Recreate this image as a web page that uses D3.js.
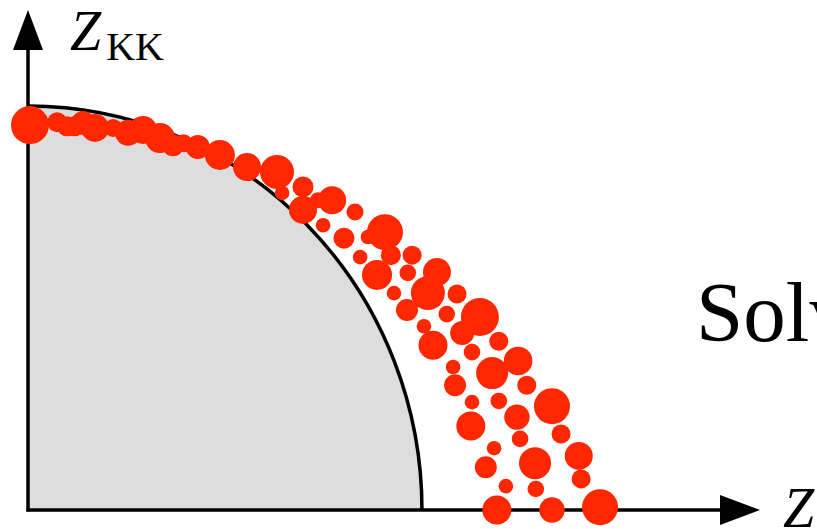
<!DOCTYPE html>
<html>
<head>
<meta charset="utf-8">
<script src="https://cdn.jsdelivr.net/npm/d3@7/dist/d3.min.js"></script>
<style>
  html, body { margin: 0; padding: 0; background: #ffffff; overflow: hidden; }
  svg { display: block; }
</style>
</head>
<body>
<svg id="chart" width="817" height="529"></svg>
<script>
// Axis extents (in normalised Z units) and the known bound (quarter ellipse).
const axisMaxX = 1.858;
const axisMaxY = 1.238;
const boundA = 1.0;   // semi-axis along Z
const boundB = 1.0;   // semi-axis along Z_KK

// Sampled points: position along Z, along Z_KK, and marker size.
const zValues = [
  0.005, 0.074, 0.099, 0.140, 0.170, 0.216, 0.254, 0.292, 0.335, 0.368,
  0.431, 0.487, 0.556, 0.632, 0.698, 0.645, 0.698, 0.736, 0.772, 0.749,
  0.802, 0.830, 0.906, 0.863, 0.921, 0.843, 0.886, 0.975, 0.964, 1.038,
  0.929, 1.015, 1.089, 0.962, 1.063, 1.147, 1.005, 1.102, 1.028, 1.195,
  1.127, 1.244, 1.178, 1.079, 1.084, 1.266, 1.127, 1.195, 1.330, 1.124,
  1.241, 1.353, 1.249, 1.183, 1.162, 1.287, 1.398, 1.213, 1.289, 1.404,
  1.190, 1.330, 1.452, 0.118, 0.395
];
const zkkValues = [
  0.953, 0.960, 0.950, 0.958, 0.946, 0.946, 0.934, 0.941, 0.921, 0.903,
  0.899, 0.879, 0.849, 0.837, 0.800, 0.785, 0.743, 0.767, 0.767, 0.705,
  0.673, 0.738, 0.688, 0.676, 0.631, 0.626, 0.582, 0.631, 0.587, 0.589,
  0.537, 0.537, 0.535, 0.495, 0.485, 0.478, 0.455, 0.438, 0.408, 0.418,
  0.391, 0.369, 0.339, 0.354, 0.309, 0.309, 0.267, 0.270, 0.257, 0.208,
  0.230, 0.188, 0.176, 0.153, 0.106, 0.116, 0.134, 0.059, 0.052, 0.077,
  0.000, 0.000, 0.007, 0.950, 0.908
];
const sizes = [
  19, 10, 10, 12, 14, 9, 13, 14, 15, 11,
  12, 15, 14, 17, 10.5, 7.3, 14, 8, 14, 7.3,
  10.5, 8.5, 18, 7.3, 10, 7.3, 15, 9.5, 8.3, 14,
  7.3, 17, 9.5, 11, 8.3, 19, 7.3, 12, 14.5, 9.5,
  8.3, 14.3, 16, 7.3, 11, 9.5, 7.3, 8.3, 18, 14.5,
  12.7, 9.5, 8.3, 7.3, 11, 16, 14, 7.3, 8.3, 9.5,
  14.5, 12.7, 18, 10, 9
];

const points = zValues.map((z, i) => ({ z, zkk: zkkValues[i], s: sizes[i] }));

const svg = d3.select("#chart");
const W = 817, H = 529;

svg.append("rect").attr("width", W).attr("height", H).attr("fill", "#ffffff");

const x = d3.scaleLinear().domain([0, axisMaxX]).range([28, 760]);
const y = d3.scaleLinear().domain([0, axisMaxY]).range([510, 10]);
const r = d3.scaleLinear().domain([0, 20]).range([0, 20]);

// Shaded region under the bound: quarter ellipse.
const rx = x(boundA) - x(0);
const ry = y(0) - y(boundB);
const regionPath = `M${x(0)},${y(0)} L${x(boundA)},${y(0)} ` +
  `A${rx},${ry} 0 0 0 ${x(0)},${y(boundB)} Z`;
svg.append("path")
  .attr("d", regionPath)
  .attr("fill", "#dddddd")
  .attr("stroke", "none");
svg.append("path")
  .attr("d", `M${x(boundA)},${y(0)} A${rx},${ry} 0 0 0 ${x(0)},${y(boundB)}`)
  .attr("fill", "none")
  .attr("stroke", "#000000")
  .attr("stroke-width", 3.5);

// Axes with arrow heads.
const arrowLen = 40, arrowHalf = 15;
const axes = svg.append("g");
axes.append("line")
  .attr("x1", x(0) - 1.5).attr("y1", y(0))
  .attr("x2", x(axisMaxX) - arrowLen + 2).attr("y2", y(0))
  .attr("stroke", "#000").attr("stroke-width", 3.5);
axes.append("line")
  .attr("x1", x(0)).attr("y1", y(0) + 1.5)
  .attr("x2", x(0)).attr("y2", y(axisMaxY) + arrowLen - 2)
  .attr("stroke", "#000").attr("stroke-width", 3.5);
axes.append("path")
  .attr("d", `M${x(axisMaxX)},${y(0)} L${x(axisMaxX) - arrowLen},${y(0) - arrowHalf} ` +
             `L${x(axisMaxX) - arrowLen},${y(0) + arrowHalf} Z`)
  .attr("fill", "#000");
axes.append("path")
  .attr("d", `M${x(0)},${y(axisMaxY)} L${x(0) - arrowHalf},${y(axisMaxY) + arrowLen} ` +
             `L${x(0) + arrowHalf},${y(axisMaxY) + arrowLen} Z`)
  .attr("fill", "#000");

// Sample points.
svg.append("g")
  .selectAll("circle")
  .data(points)
  .join("circle")
  .attr("cx", d => x(d.z))
  .attr("cy", d => y(d.zkk))
  .attr("r", d => r(d.s))
  .attr("fill", "#ff2700");

// Labels.
const serif = "'Liberation Serif', 'DejaVu Serif', serif";
const yLabel = svg.append("text")
  .attr("x", 70).attr("y", 50)
  .attr("font-family", serif)
  .attr("fill", "#000");
yLabel.append("tspan")
  .attr("font-style", "italic")
  .attr("font-size", 56)
  .text("Z");
yLabel.append("tspan")
  .attr("font-size", 40)
  .attr("dx", 5)
  .attr("dy", 10)
  .text("KK");

svg.append("text")
  .attr("x", 783).attr("y", 527)
  .attr("font-family", serif)
  .attr("font-style", "italic")
  .attr("font-size", 56)
  .attr("fill", "#000")
  .text("Z");

svg.append("text")
  .attr("x", 696).attr("y", 341)
  .attr("font-family", serif)
  .attr("font-size", 85)
  .attr("fill", "#000")
  .text("Solv");
</script>
</body>
</html>
